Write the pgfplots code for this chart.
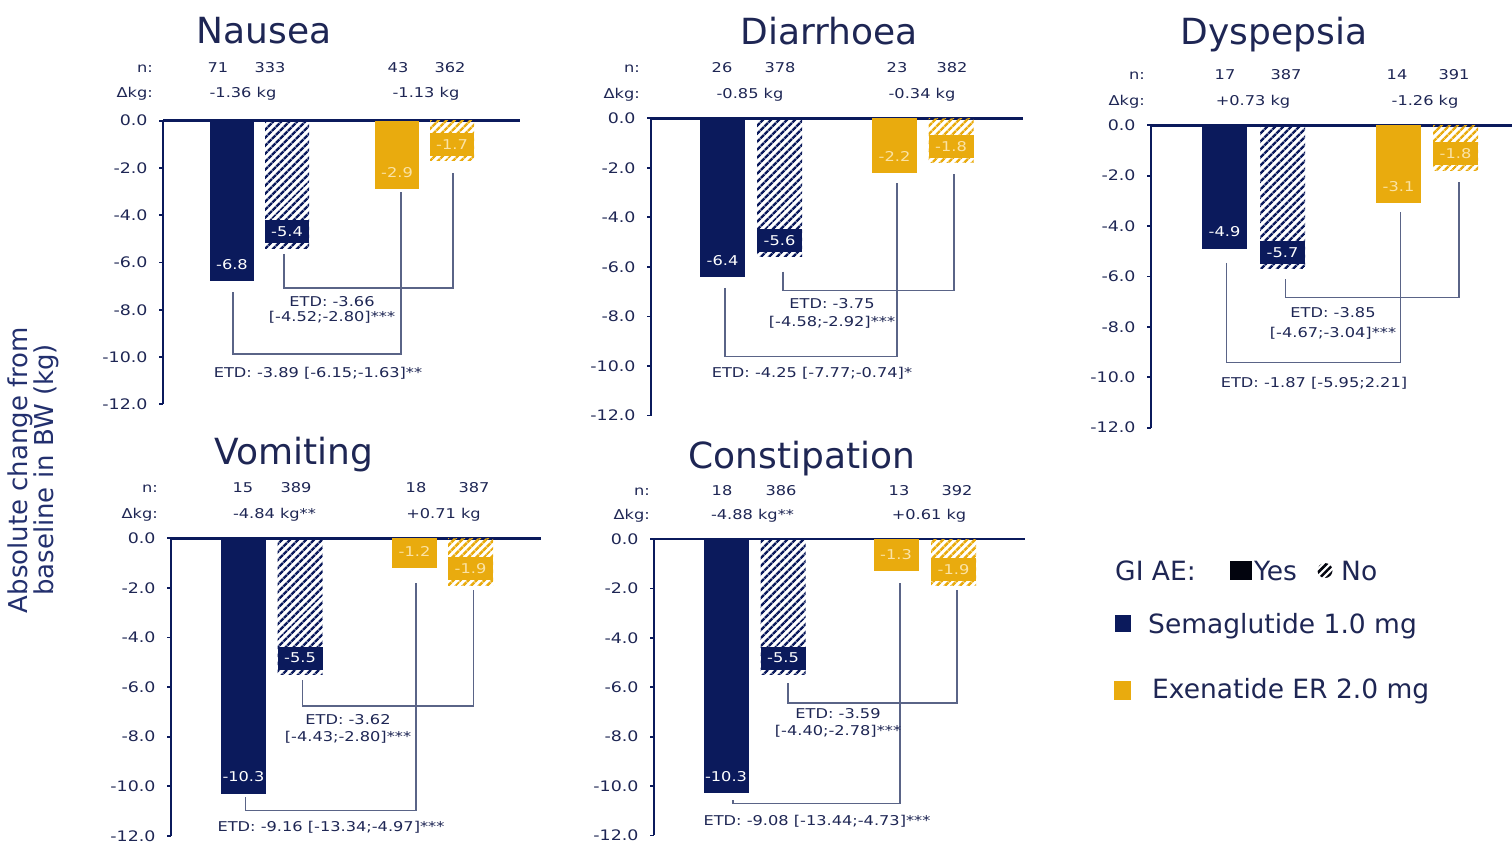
\documentclass[border=0pt]{standalone}
\usepackage{pgfplots}
\pgfplotsset{compat=1.18}
\usetikzlibrary{patterns.meta}
\usepackage{fontspec}
\setmainfont{DejaVu Sans}
\newfontfamily\wide{DejaVu Sans}[FakeStretch=1.2]
\definecolor{navy}{HTML}{0B1A5C}
\definecolor{gold}{HTML}{E9AB0E}
\definecolor{txt}{HTML}{1E2654}
\definecolor{brk}{HTML}{5A6487}
\definecolor{lbl}{HTML}{FBE3A6}
\definecolor{ylab}{HTML}{23306E}
\newcommand{\sm}{\wide\fontsize{13.5}{15}\selectfont}
\newcommand{\tk}{\wide\fontsize{14.5}{16}\selectfont}
\newcommand{\ttl}{\fontsize{36}{40}\selectfont}
\newcommand{\lgf}{\fontsize{26.5}{30}\selectfont}

\pgfplotsset{
  panel/.style={
    scale only axis, clip=false, anchor=north west,
    ymin=-12, ymax=0,
    axis x line*=top, axis y line*=left,
    every outer x axis line/.append style={-},
    every outer y axis line/.append style={-},
    x axis line style={-}, y axis line style={-},
    axis line style={navy, line width=2.6pt},
    xtick=\empty,
    ytick={0,-2,-4,-6,-8,-10,-12},
    yticklabels={0.0,-2.0,-4.0,-6.0,-8.0,-10.0,-12.0},
    yticklabel style={font=\tk, text=txt, xshift=-8pt},
    tick align=outside, major tick length=4pt,
    ytick style={navy, line width=1.8pt},
  },
  sbar/.style n args={3}{ybar, bar shift=0pt, bar width=#2pt, fill=#1, draw=none,
    point meta=explicit symbolic, nodes near coords,
    nodes near coords style={anchor=south, yshift=5pt, fill=#1, minimum width=#2pt,
      minimum height=23pt, inner sep=0pt, font=\sm, text=#3}},
  hbar/.style n args={3}{ybar, bar shift=0pt, bar width=#2pt, draw=none,
    pattern={Lines[angle=45,distance=5.4pt,line width=2.7pt]}, pattern color=#1,
    point meta=explicit symbolic, nodes near coords,
    nodes near coords style={anchor=south, yshift=5pt, fill=#1, minimum width=#2pt,
      minimum height=23pt, inner sep=0pt, font=\sm, text=#3}},
  bracket/.style={brk, line width=1.1pt, mark=none, sharp plot, forget plot},
}

\newcommand{\tx}[4][]{\node[font=\sm, text=txt, anchor=base, inner sep=0pt, #1] at (#2pt,-#3pt) {#4};}
\newcommand{\ti}[3]{\node[font=\ttl, text=txt, anchor=base, inner sep=0pt] at (#1pt,-#2pt) {#3};}

\begin{document}
\begin{tikzpicture}
\path[use as bounding box] (0pt,0pt) rectangle (1512pt,-844pt);

% ---------------- Nausea
\begin{axis}[panel, at={(163pt,-120.7pt)}, width=357pt, height=283.6pt, xmin=163, xmax=520]
\addplot[sbar={navy}{44}{white}] coordinates {(232,-6.8) [-6.8]};
\addplot[hbar={navy}{44}{white}] coordinates {(287,-5.4) [-5.4]};
\addplot[sbar={gold}{44}{lbl}] coordinates {(397,-2.9) [-2.9]};
\addplot[hbar={gold}{44}{lbl}] coordinates {(452,-1.7) [-1.7]};
\addplot[bracket] coordinates {(284,-5.64) (284,-7.08) (453,-7.08) (453,-2.21)};
\addplot[bracket] coordinates {(233,-7.25) (233,-9.87) (401,-9.87) (401,-3.0)};
\end{axis}
\ti{264}{43.3}{Nausea}
\tx[anchor=base east]{153}{72}{n:}
\tx[anchor=base east]{153}{97}{Δkg:}
\tx{218}{72}{71}\tx{270}{72}{333}\tx{398}{72}{43}\tx{450}{72}{362}
\tx{243}{97}{-1.36 kg}\tx{426}{97}{-1.13 kg}
\tx{332}{306.5}{ETD: -3.66}
\tx{332}{321.5}{[-4.52;-2.80]***}
\tx{318}{377.5}{ETD: -3.89 [-6.15;-1.63]**}

% ---------------- Diarrhoea
\begin{axis}[panel, at={(651pt,-118.3pt)}, width=372pt, height=297.2pt, xmin=651, xmax=1023]
\addplot[sbar={navy}{45}{white}] coordinates {(722.5,-6.4) [-6.4]};
\addplot[hbar={navy}{45}{white}] coordinates {(779.5,-5.6) [-5.6]};
\addplot[sbar={gold}{45}{lbl}] coordinates {(894.5,-2.2) [-2.2]};
\addplot[hbar={gold}{45}{lbl}] coordinates {(951,-1.8) [-1.8]};
\addplot[bracket] coordinates {(783,-6.19) (783,-6.96) (954,-6.96) (954,-2.25)};
\addplot[bracket] coordinates {(725,-6.85) (725,-9.60) (897,-9.60) (897,-2.61)};
\end{axis}
\ti{829}{44}{Diarrhoea}
\tx[anchor=base east]{640}{72}{n:}
\tx[anchor=base east]{640}{98}{Δkg:}
\tx{722}{72}{26}\tx{780}{72}{378}\tx{897}{72}{23}\tx{952}{72}{382}
\tx{750}{98}{-0.85 kg}\tx{922}{98}{-0.34 kg}
\tx{832}{308.5}{ETD: -3.75}
\tx{832}{326}{[-4.58;-2.92]***}
\tx{812}{377.5}{ETD: -4.25 [-7.77;-0.74]*}

% ---------------- Dyspepsia
\begin{axis}[panel, at={(1151pt,-125.3pt)}, width=361pt, height=302.4pt, xmin=1151, xmax=1512]
\addplot[sbar={navy}{45}{white}] coordinates {(1224.5,-4.9) [-4.9]};
\addplot[hbar={navy}{45}{white}] coordinates {(1282.5,-5.7) [-5.7]};
\addplot[sbar={gold}{45}{lbl}] coordinates {(1398.5,-3.1) [-3.1]};
\addplot[hbar={gold}{45}{lbl}] coordinates {(1455.5,-1.8) [-1.8]};
\addplot[bracket] coordinates {(1285.7,-6.10) (1285.7,-6.85) (1459,-6.85) (1459,-2.24)};
\addplot[bracket] coordinates {(1226.7,-5.46) (1226.7,-9.43) (1400.7,-9.43) (1400.7,-3.44)};
\end{axis}
\ti{1274}{44}{Dyspepsia}
\tx[anchor=base east]{1145}{79}{n:}
\tx[anchor=base east]{1145}{105}{Δkg:}
\tx{1225}{79}{17}\tx{1286}{79}{387}\tx{1397}{79}{14}\tx{1454}{79}{391}
\tx{1253}{105}{+0.73 kg}\tx{1425}{105}{-1.26 kg}
\tx{1333}{317.8}{ETD: -3.85}
\tx{1333}{337.5}{[-4.67;-3.04]***}
\tx{1314}{387.5}{ETD: -1.87 [-5.95;2.21]}

% ---------------- Vomiting
\begin{axis}[panel, at={(171pt,-538.3pt)}, width=370pt, height=297.6pt, xmin=171, xmax=541]
\addplot[sbar={navy}{45}{white}] coordinates {(243.5,-10.3) [-10.3]};
\addplot[hbar={navy}{45}{white}] coordinates {(300,-5.5) [-5.5]};
\addplot[sbar={gold}{45}{lbl}] coordinates {(414.5,-1.2) [-1.2]};
\addplot[hbar={gold}{45}{lbl}] coordinates {(470.5,-1.9) [-1.9]};
\addplot[bracket] coordinates {(302.7,-5.73) (302.7,-6.76) (473.3,-6.76) (473.3,-2.10)};
\addplot[bracket] coordinates {(245.7,-10.44) (245.7,-10.97) (416,-10.97) (416,-1.81)};
\end{axis}
\ti{294}{464}{Vomiting}
\tx[anchor=base east]{158}{492.7}{n:}
\tx[anchor=base east]{158}{518.3}{Δkg:}
\tx{243}{492.7}{15}\tx{296}{492.7}{389}\tx{416}{492.7}{18}\tx{474}{492.7}{387}
\tx{274.5}{518.3}{-4.84 kg**}\tx{443.5}{518.3}{+0.71 kg}
\tx{348}{724.5}{ETD: -3.62}
\tx{348}{741}{[-4.43;-2.80]***}
\tx{331}{831.5}{ETD: -9.16 [-13.34;-4.97]***}

% ---------------- Constipation
\begin{axis}[panel, at={(654pt,-539pt)}, width=371pt, height=296.4pt, xmin=654, xmax=1025]
\addplot[sbar={navy}{45}{white}] coordinates {(726,-10.3) [-10.3]};
\addplot[hbar={navy}{45}{white}] coordinates {(783,-5.5) [-5.5]};
\addplot[sbar={gold}{45}{lbl}] coordinates {(896,-1.3) [-1.3]};
\addplot[hbar={gold}{45}{lbl}] coordinates {(953.5,-1.9) [-1.9]};
\addplot[bracket] coordinates {(788,-5.83) (788,-6.64) (957,-6.64) (957,-2.06)};
\addplot[bracket] coordinates {(733,-10.57) (733,-10.69) (900,-10.69) (900,-1.78)};
\end{axis}
\ti{801.7}{468}{Constipation}
\tx[anchor=base east]{650}{495}{n:}
\tx[anchor=base east]{650}{519}{Δkg:}
\tx{722}{495}{18}\tx{781}{495}{386}\tx{899}{495}{13}\tx{957}{495}{392}
\tx{752.5}{519}{-4.88 kg**}\tx{929}{519}{+0.61 kg}
\tx{838}{718.5}{ETD: -3.59}
\tx{838}{735.5}{[-4.40;-2.78]***}
\tx{817}{825.5}{ETD: -9.08 [-13.44;-4.73]***}

% ---------------- y label
\node[rotate=90, align=center, font=\fontsize{26}{23.5}\selectfont, text=ylab] at (33pt,-470pt)
  {Absolute change from\\baseline in BW (kg)};

% ---------------- legend
\node[font=\lgf, text=txt, anchor=base west, inner sep=0pt] at (1115pt,-580.5pt) {GI AE:};
\node[fill=black!85!navy, minimum width=22pt, minimum height=19pt, inner sep=0pt] at (1241pt,-570.5pt) {};
\node[font=\lgf, text=txt, anchor=base west, inner sep=0pt] at (1254pt,-580.5pt) {Yes};
\node[circle, minimum size=15pt, inner sep=0pt, pattern={Lines[angle=45,distance=5pt,line width=2.6pt]}, pattern color=black!85!navy] at (1325pt,-570.5pt) {};
\node[font=\lgf, text=txt, anchor=base west, inner sep=0pt] at (1341pt,-580.5pt) {No};
\node[fill=navy, minimum width=16pt, minimum height=17pt, inner sep=0pt] at (1123pt,-623.5pt) {};
\node[font=\lgf, text=txt, anchor=base west, inner sep=0pt] at (1148pt,-633pt) {Semaglutide 1.0 mg};
\node[fill=gold, minimum width=17pt, minimum height=19pt, inner sep=0pt] at (1122pt,-690pt) {};
\node[font=\lgf, text=txt, anchor=base west, inner sep=0pt] at (1152pt,-698pt) {Exenatide ER 2.0 mg};
\end{tikzpicture}
\end{document}
